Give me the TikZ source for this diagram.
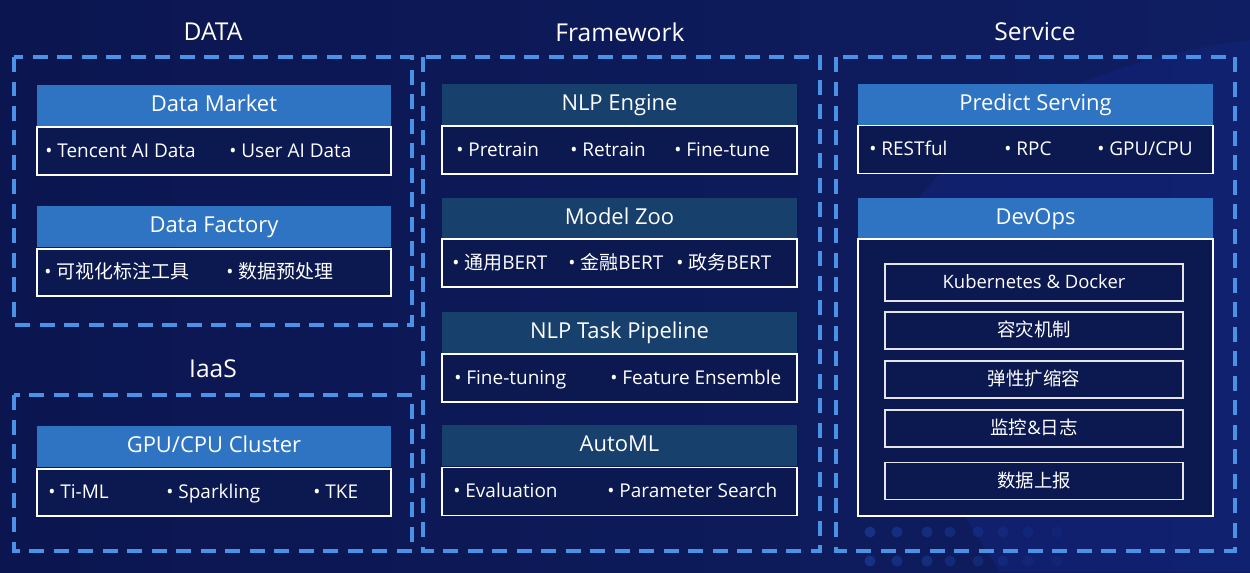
\documentclass[tikz,border=0pt]{standalone}
\usepackage{fontspec}
\setmainfont{Open Sans}
\newfontfamily\cjk{Noto Sans CJK SC}
\usetikzlibrary{positioning}
\definecolor{bgnavy}{HTML}{0B1650}
\definecolor{bgnavyR}{HTML}{0F1E62}
\definecolor{bandblue}{HTML}{14288A}
\definecolor{dashblue}{HTML}{4A92E6}
\definecolor{hdrblue}{HTML}{2F74C2}
\definecolor{hdrteal}{HTML}{17406C}
\definecolor{cellnavy}{HTML}{0C1850}
\definecolor{dotblue}{HTML}{1D45A8}
\tikzset{
	grouptitle/.style={text=white,font=\fontsize{14}{16}\selectfont},
	groupbox/.style={draw=dashblue,line width=2.3pt,dash pattern=on 0.3cm off 0.19cm},
	hdr/.style={fill=hdrblue,text=white,inner sep=0pt,minimum width=7.08cm,minimum height=0.82cm,
		text height=0.92em,text depth=0.2em,font=\fontsize{12.5}{14}\selectfont},
	hdrmid/.style={hdr,fill=hdrteal,minimum width=7.1cm},
	cell/.style={draw=white,line width=1.1pt,fill=cellnavy,inner sep=0pt,minimum width=7.08cm,minimum height=0.96cm},
	subcell/.style={draw=white!80!gray,line width=0.9pt,inner sep=0pt,minimum width=5.96cm,minimum height=0.74cm,
		text height=0.92em,text depth=0.2em,text=white,font=\fontsize{10.5}{12}\selectfont},
	item/.style={anchor=west,text=white,inner sep=0pt,text height=0.92em,text depth=0.2em,font=\fontsize{10.8}{12}\selectfont}
}
\begin{document}
\begin{tikzpicture}[x=0.02cm,y=-0.02cm]
		% Draw background
		\useasboundingbox (0,0) rectangle (1250,572);
		\shade[left color=bgnavy,right color=bgnavyR] (0,0) rectangle (1250,572);
		\fill[bandblue,opacity=0.35] (1000,572) -- (880,380) .. controls (840,250) and (950,80) .. (1250,40) -- (1250,572) -- cycle;
		\foreach \dx [count=\i] in {870,897,927,950,978,1003,1028,1057} {
			\pgfmathsetmacro{\op}{0.6-0.06*\i}
			\fill[dotblue,opacity=\op] (\dx,532) circle (5.5);
			\fill[dotblue,opacity=\op] (\dx,561) circle (5.5);
		}
		% Draw group frames and titles
		\draw[groupbox] (14,57) rectangle (412,325);
		\draw[groupbox] (14,395) rectangle (412,551);
		\draw[groupbox] (423,57) rectangle (820,551);
		\draw[groupbox] (836,57) rectangle (1235,551);
		\node[grouptitle] (tdata) at (213,32) {DATA};
		\node[grouptitle] (tframe) at (620,32) {Framework};
		\node[grouptitle] (tserv) at (1035,32) {Service};
		\node[grouptitle] (tiaas) at (213,369) {IaaS};
		% Draw DATA column
		\node[hdr] (market) at (214,105.5) {Data Market};
		\node[cell] (marketc) at (214,151) {};
		\node[item] (m1) at (45,151) {• Tencent AI Data};
		\node[item] (m2) at (229,151) {• User AI Data};
		\node[hdr] (factory) at (214,226.5) {Data Factory};
		\node[cell,minimum height=0.94cm] (factoryc) at (214,272.5) {};
		\node[item] (f1) at (44,272) {• {\cjk 可视化标注工具}};
		\node[item] (f2) at (226,272) {• {\cjk 数据预处理}};
		% Draw IaaS column
		\node[hdr] (cluster) at (214,446.5) {GPU/CPU Cluster};
		\node[cell,minimum height=0.94cm] (clusterc) at (214,492.5) {};
		\node[item] (c1) at (48,492) {• Ti-ML};
		\node[item] (c2) at (166,492) {• Sparkling};
		\node[item] (c3) at (313,492) {• TKE};
		% Draw Framework column
		\node[hdrmid] (engine) at (619.5,104.5) {NLP Engine};
		\node[cell,minimum width=7.1cm] (enginec) at (619.5,150) {};
		\node[item] (e1) at (456,150) {• Pretrain};
		\node[item] (e2) at (570,150) {• Retrain};
		\node[item] (e3) at (674,150) {• Fine-tune};
		\node[hdrmid] (zoo) at (619.5,218) {Model Zoo};
		\node[cell,minimum width=7.1cm] (zooc) at (619.5,263) {};
		\node[item] (z1) at (452,263) {• {\cjk 通用}BERT};
		\node[item] (z2) at (568,263) {• {\cjk 金融}BERT};
		\node[item] (z3) at (676,263) {• {\cjk 政务}BERT};
		\node[hdrmid] (pipe) at (619.5,332.5) {NLP Task Pipeline};
		\node[cell,minimum width=7.1cm] (pipec) at (619.5,378) {};
		\node[item] (p1) at (454,378) {• Fine-tuning};
		\node[item] (p2) at (610,378) {• Feature Ensemble};
		\node[hdrmid] (automl) at (619.5,445.5) {AutoML};
		\node[cell,minimum width=7.1cm] (automlc) at (619.5,491.5) {};
		\node[item] (a1) at (453,491.5) {• Evaluation};
		\node[item] (a2) at (607,491.5) {• Parameter Search};
		% Draw Service column
		\node[hdr,minimum width=7.1cm] (predict) at (1035.5,104) {Predict Serving};
		\node[cell,minimum width=7.1cm] (predictc) at (1035.5,149.5) {};
		\node[item] (s1) at (869,149.5) {• RESTful};
		\node[item] (s2) at (1004,149.5) {• RPC};
		\node[item] (s3) at (1097,149.5) {• GPU/CPU};
		\node[hdr,minimum width=7.1cm] (devops) at (1035.5,218) {DevOps};
		\node[cell,minimum width=7.1cm,minimum height=5.54cm] (devopsc) at (1035.5,377.5) {};
		\node[subcell] (k8s) at (1034,282.5) {Kubernetes \& Docker};
		\node[subcell] (dr) at (1034,330.5) {\cjk 容灾机制};
		\node[subcell] (scale) at (1034,379.5) {\cjk 弹性扩缩容};
		\node[subcell] (mon) at (1034,428.5) {{\cjk 监控}\&{\cjk 日志}};
		\node[subcell] (report) at (1034,481) {\cjk 数据上报};
\end{tikzpicture}
\end{document}
